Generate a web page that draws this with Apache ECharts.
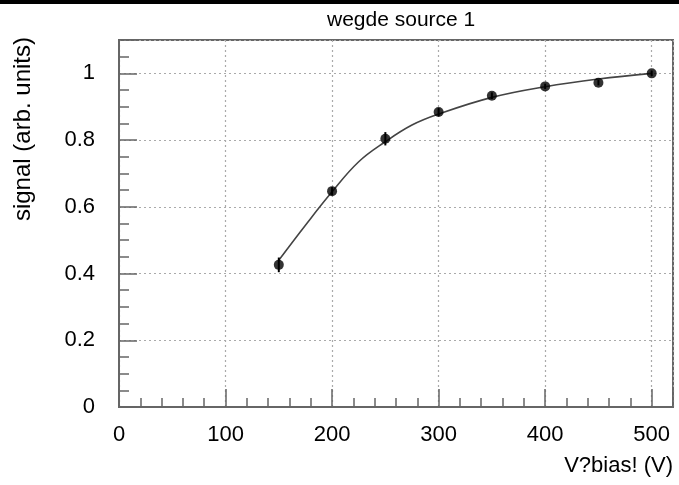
<!DOCTYPE html>
<html>
<head>
<meta charset="utf-8">
<script src="https://cdn.jsdelivr.net/npm/echarts@6/dist/echarts.min.js"></script>
<style>
html,body{margin:0;padding:0;background:#fff;}
#chart{width:679px;height:485px;}
</style>
</head>
<body>
<div id="chart"></div>
<script>
// ---- data ----
const chartTitle = 'wegde source 1';
const xAxisTitle = 'V?bias! (V)';
const yAxisTitle = 'signal (arb. units)';
const biasV = [150, 200, 250, 300, 350, 400, 450, 500];
const signal = [0.426, 0.647, 0.804, 0.884, 0.933, 0.961, 0.972, 1.0];
const signalErr = [0.022, 0.012, 0.02, 0.012, 0.01, 0.008, 0.008, 0.008];
const fitV = [150, 175, 200, 225, 250, 275, 300, 350, 400, 450, 500];
const fitSignal = [0.44, 0.545, 0.645, 0.735, 0.795, 0.845, 0.878, 0.928, 0.96, 0.983, 1.0];
const xMin = 0, xMax = 520, xMajor = 100, xMinor = 20;
const yMin = 0, yMax = 1.1, yMajor = 0.2, yMinor = 0.05;

const FONT = 'Liberation Sans';
const AX = '#666';
const gridPos = {left: 119, right: 6, top: 40, bottom: 78};

const chart = echarts.init(document.getElementById('chart'), null, {renderer: 'canvas'});
chart.setOption({
  animation: false,
  backgroundColor: '#fff',
  title: {
    text: chartTitle, left: 322, top: 5,
    textStyle: {fontFamily: FONT, fontSize: 21, fontWeight: 'normal', color: '#000'}
  },
  grid: [
    Object.assign({show: true, borderColor: AX, borderWidth: 2, backgroundColor: 'transparent'}, gridPos),
    Object.assign({show: false}, gridPos)
  ],
  xAxis: [
    {
      type: 'value', gridIndex: 0, min: xMin, max: xMax, interval: xMajor, position: 'bottom',
      axisLine: {show: true, onZero: false, lineStyle: {color: AX, width: 2}},
      axisTick: {show: true, inside: true, length: 18, lineStyle: {color: AX, width: 1.5}},
      axisLabel: {
        fontFamily: FONT, fontSize: 22, color: '#000', margin: 17,
        formatter: v => (Math.abs(v % xMajor) < 1e-6 && v <= 500) ? String(v) : ''
      },
      splitLine: {show: true, lineStyle: {color: '#aaa', width: 1.2, type: [2, 3]}}
    },
    {
      type: 'value', gridIndex: 1, min: xMin, max: xMax, interval: xMinor, position: 'bottom',
      axisLine: {show: false},
      axisTick: {show: true, inside: true, length: 9, lineStyle: {color: AX, width: 1.5}},
      axisLabel: {show: false},
      splitLine: {show: false}
    }
  ],
  yAxis: [
    {
      type: 'value', gridIndex: 0, min: yMin, max: yMax, interval: yMajor, position: 'left',
      axisLine: {show: true, onZero: false, lineStyle: {color: AX, width: 2}},
      axisTick: {show: true, inside: true, length: 18, lineStyle: {color: AX, width: 1.5}},
      axisLabel: {
        fontFamily: FONT, fontSize: 22, color: '#000', margin: 24,
        formatter: v => v > 1.05 ? '' : String(Math.round(v * 10) / 10)
      },
      splitLine: {show: true, lineStyle: {color: '#aaa', width: 1.2, type: [2, 3]}}
    },
    {
      type: 'value', gridIndex: 1, min: yMin, max: yMax, interval: yMinor, position: 'left',
      axisLine: {show: false},
      axisTick: {show: true, inside: true, length: 10, lineStyle: {color: AX, width: 1.5}},
      axisLabel: {show: false},
      splitLine: {show: false}
    }
  ],
  graphic: [
    {type: 'rect', left: 0, top: 0, shape: {width: 679, height: 4}, style: {fill: '#000'}, z: 100},
    {type: 'text', x: 673, y: 466, style: {text: xAxisTitle, font: '22px "Liberation Sans"', fill: '#000', textAlign: 'right', textVerticalAlign: 'middle'}},
    {type: 'text', x: 23, y: 37, rotation: Math.PI / 2, style: {text: yAxisTitle, font: '24px "Liberation Sans"', fill: '#000', textAlign: 'right', textVerticalAlign: 'middle'}}
  ],
  series: [
    {
      type: 'line', xAxisIndex: 0, yAxisIndex: 0,
      data: fitV.map((v, i) => [v, fitSignal[i]]),
      smooth: 0.4, showSymbol: false, symbol: 'none',
      lineStyle: {color: '#444', width: 1.6}, z: 2
    },
    {
      type: 'custom', xAxisIndex: 0, yAxisIndex: 0,
      data: biasV.map((v, i) => [v, signal[i], signalErr[i]]),
      renderItem: function (params, api) {
        const x = api.value(0), y = api.value(1), e = api.value(2);
        const p1 = api.coord([x, y + e]);
        const p2 = api.coord([x, y - e]);
        return {type: 'line', shape: {x1: p1[0], y1: p1[1], x2: p2[0], y2: p2[1]}, style: {stroke: '#000', lineWidth: 2}};
      },
      z: 3
    },
    {
      type: 'scatter', xAxisIndex: 0, yAxisIndex: 0,
      data: biasV.map((v, i) => [v, signal[i]]),
      symbol: 'circle', symbolSize: 10,
      itemStyle: {color: '#000'}, z: 4
    }
  ]
});
</script>
</body>
</html>
